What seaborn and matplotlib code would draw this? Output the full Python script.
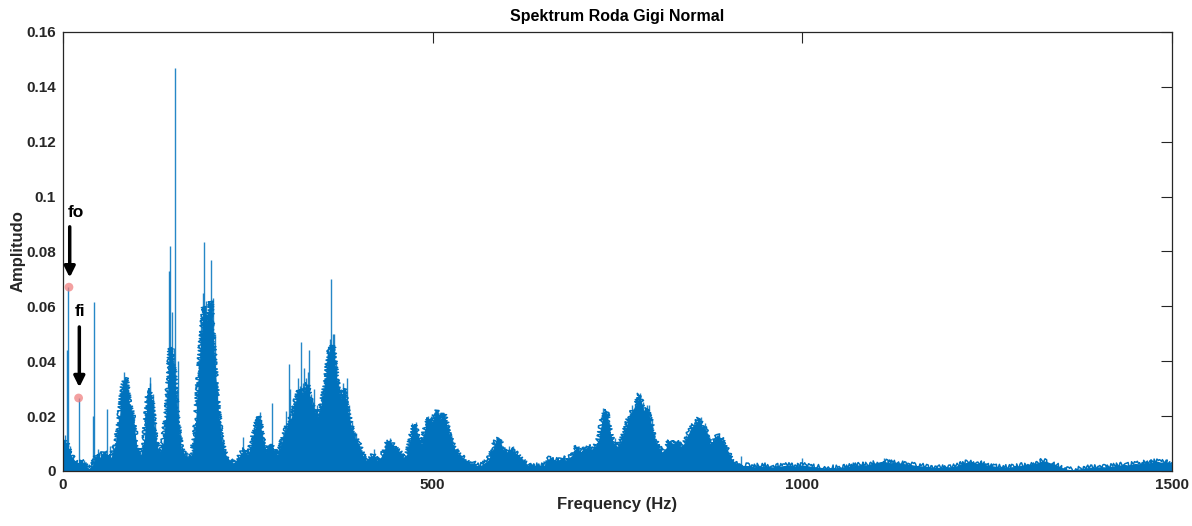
import numpy as np
import matplotlib
matplotlib.use("Agg")
import matplotlib.pyplot as plt
from matplotlib.ticker import FuncFormatter
import seaborn as sns

# ---------------- data ----------------
STEP_HZ = 5
# upper envelope of the dense spectrum, one value every 5 Hz (rows = 50 Hz)
envelope = [
    0.012, 0.010, 0.006, 0.004, 0.003, 0.004, 0.002, 0.001, 0.002, 0.006,   # 0-45
    0.005, 0.007, 0.006, 0.005, 0.009, 0.016, 0.030, 0.034, 0.024, 0.020,   # 50-95
    0.008, 0.006, 0.012, 0.030, 0.026, 0.012, 0.006, 0.010, 0.022, 0.045,   # 100-145
    0.038, 0.018, 0.008, 0.006, 0.005, 0.006, 0.020, 0.042, 0.060, 0.055,   # 150-195
    0.062, 0.040, 0.022, 0.010, 0.006, 0.004, 0.003, 0.004, 0.006, 0.008,   # 200-245
    0.006, 0.010, 0.016, 0.020, 0.012, 0.007, 0.010, 0.008, 0.006, 0.010,   # 250-295
    0.014, 0.018, 0.020, 0.026, 0.030, 0.028, 0.032, 0.026, 0.022, 0.020,   # 300-345
    0.025, 0.032, 0.044, 0.046, 0.034, 0.026, 0.030, 0.022, 0.016, 0.012,   # 350-395
    0.010, 0.006, 0.004, 0.005, 0.006, 0.004, 0.005, 0.008, 0.011, 0.010,   # 400-445
    0.008, 0.007, 0.005, 0.006, 0.012, 0.017, 0.013, 0.010, 0.016, 0.019,   # 450-495
    0.018, 0.022, 0.019, 0.021, 0.016, 0.011, 0.008, 0.006, 0.005, 0.004,   # 500-545
    0.003, 0.003, 0.002, 0.002, 0.003, 0.004, 0.007, 0.011, 0.012, 0.008,   # 550-595
    0.007, 0.008, 0.007, 0.006, 0.004, 0.003, 0.002, 0.002, 0.002, 0.002,   # 600-645
    0.002, 0.004, 0.005, 0.004, 0.004, 0.005, 0.004, 0.005, 0.006, 0.009,   # 650-695
    0.007, 0.008, 0.009, 0.008, 0.009, 0.012, 0.020, 0.022, 0.014, 0.010,   # 700-745
    0.009, 0.011, 0.015, 0.019, 0.022, 0.024, 0.028, 0.022, 0.023, 0.018,   # 750-795
    0.012, 0.009, 0.007, 0.008, 0.011, 0.010, 0.011, 0.009, 0.010, 0.013,   # 800-845
    0.016, 0.017, 0.019, 0.016, 0.015, 0.010, 0.011, 0.013, 0.012, 0.009,   # 850-895
    0.007, 0.004, 0.003, 0.003, 0.002, 0.002, 0.002, 0.0015, 0.002, 0.0018,  # 900-945
    0.002, 0.0017, 0.0015, 0.002, 0.0018, 0.002, 0.0022, 0.002, 0.0018, 0.002,  # 950-995
    0.0022, 0.002, 0.0018, 0.0016, 0.0015, 0.0013, 0.0012, 0.0012, 0.0013, 0.0012,  # 1000-1045
    0.0014, 0.0015, 0.0016, 0.0018, 0.002, 0.0022, 0.0025, 0.0022, 0.0025, 0.0028,  # 1050-1095
    0.003, 0.0034, 0.0036, 0.0032, 0.003, 0.0033, 0.003, 0.0028, 0.0026, 0.0025,  # 1100-1145
    0.0022, 0.002, 0.0019, 0.0018, 0.0016, 0.0015, 0.0014, 0.0013, 0.0014, 0.0016,  # 1150-1195
    0.0015, 0.0017, 0.002, 0.0026, 0.003, 0.0034, 0.0032, 0.0028, 0.003, 0.0026,  # 1200-1245
    0.0022, 0.002, 0.0018, 0.0016, 0.0015, 0.0014, 0.0015, 0.0016, 0.0018, 0.002,  # 1250-1295
    0.0022, 0.0025, 0.0026, 0.0028, 0.0032, 0.0038, 0.0035, 0.003, 0.0026, 0.002,  # 1300-1345
    0.0014, 0.0008, 0.0006, 0.0005, 0.0006, 0.0008, 0.001, 0.0012, 0.0013, 0.0014,  # 1350-1395
    0.0015, 0.0016, 0.0015, 0.0017, 0.0018, 0.002, 0.0022, 0.0025, 0.0022, 0.0024,  # 1400-1445
    0.0028, 0.0026, 0.0028, 0.0032, 0.003, 0.0034, 0.0036, 0.0032, 0.0035, 0.003,  # 1450-1495
    0.0025,                                                                   # 1500
]

# narrow spectral lines standing above the envelope (freq Hz, amplitude)
spike_freq = [2, 6, 7, 10, 14, 21, 28, 41, 42, 47, 52, 59, 64, 68,
              76, 79, 82, 84, 86, 88, 90, 92, 95,
              112, 115, 117, 118, 121, 124,
              138, 141, 143, 145, 147, 148, 150, 152, 154, 156, 158,
              181, 184, 186, 187, 189, 191, 193, 194, 196, 198, 200, 201, 203, 205, 208, 212,
              244, 255, 258, 262, 264, 266, 269, 278, 283,
              292, 295, 298, 300, 302, 305, 307, 310, 313, 316, 318, 320, 322, 324, 326,
              329, 331, 333, 336, 340, 343,
              348, 352, 355, 357, 359, 361, 363, 365, 367, 369, 372, 376, 378, 380, 384,
              387, 391, 396, 420,
              437, 442, 466, 472, 474, 478, 488, 492, 494, 498, 502, 504, 506, 509, 511,
              514, 517, 521, 526,
              586, 589, 592, 603, 608,
              695, 703, 712, 718, 722, 727, 731, 734, 738, 747, 752, 758, 764, 767, 770,
              773, 776, 779, 781, 784, 787, 790, 793, 797,
              817, 822, 828, 832, 843, 848, 851, 854, 857, 860, 863, 866, 868, 871,
              881, 884, 886, 889, 893, 898, 917, 1000, 1110]
spike_amp = [0.013, 0.044, 0.067, 0.009, 0.006, 0.0265, 0.004, 0.020, 0.0617, 0.008, 0.007, 0.0226, 0.009, 0.010,
             0.020, 0.030, 0.036, 0.033, 0.030, 0.022, 0.024, 0.021, 0.020,
             0.016, 0.030, 0.032, 0.0344, 0.028, 0.018,
             0.015, 0.030, 0.073, 0.082, 0.058, 0.041, 0.045, 0.147, 0.030, 0.040, 0.015,
             0.025, 0.040, 0.050, 0.055, 0.065, 0.0835, 0.062, 0.054, 0.058, 0.054, 0.077, 0.060, 0.063, 0.050, 0.032, 0.018,
             0.0125, 0.012, 0.015, 0.019, 0.018, 0.0216, 0.014, 0.010, 0.0247,
             0.009, 0.012, 0.013, 0.016, 0.022, 0.039, 0.030, 0.024, 0.026, 0.029, 0.034, 0.031, 0.047, 0.032, 0.0375,
             0.034, 0.036, 0.044, 0.028, 0.030, 0.024,
             0.024, 0.030, 0.034, 0.040, 0.045, 0.048, 0.070, 0.050, 0.050, 0.040, 0.033, 0.030, 0.032, 0.028, 0.034,
             0.024, 0.018, 0.014, 0.008,
             0.011, 0.012, 0.009, 0.0175, 0.016, 0.018, 0.014, 0.018, 0.020, 0.020, 0.020, 0.021, 0.0222, 0.020, 0.018,
             0.021, 0.019, 0.017, 0.012,
             0.011, 0.0125, 0.010, 0.009, 0.009,
             0.0084, 0.009, 0.010, 0.009, 0.0098, 0.016, 0.0228, 0.021, 0.018, 0.012, 0.011, 0.014, 0.019, 0.021, 0.024,
             0.024, 0.026, 0.026, 0.0283, 0.025, 0.022, 0.024, 0.024, 0.019,
             0.010, 0.011, 0.011, 0.011, 0.013, 0.015, 0.016, 0.017, 0.018, 0.017, 0.0198, 0.016, 0.0175, 0.014,
             0.012, 0.013, 0.013, 0.012, 0.012, 0.008, 0.0055, 0.0046, 0.0047]

# marked characteristic frequencies
mark_labels = ["fo", "fi"]
mark_freq = [8, 21]
mark_amp = [0.067, 0.0266]

x_ticks = [0, 500, 1000, 1500]
y_ticks = [0, 0.02, 0.04, 0.06, 0.08, 0.1, 0.12, 0.14, 0.16]

# ---------------- styling ----------------
sns.set_theme(style="white")
plt.rcParams["font.family"] = ["Liberation Sans", "DejaVu Sans"]
BLUE = "#0072BD"
TXT = "#262626"

fig = plt.figure(figsize=(11.92, 5.26), dpi=100)
ax = fig.add_axes([0.0529, 0.1046, 0.9303, 0.8346])

freq = np.arange(len(envelope)) * STEP_HZ
ax.fill_between(freq, 0, envelope, color=BLUE, linewidth=0)
sns.lineplot(x=freq, y=envelope, ax=ax, color=BLUE, linewidth=1.1)
# rough, hairy rendering of the envelope edge (drawing style only)
ax.lines[-1].set_sketch_params(scale=2.5, length=2.0, randomness=3.0)
ax.vlines(spike_freq, 0, spike_amp, color=BLUE, linewidth=1.0, alpha=0.85)

sns.scatterplot(x=mark_freq, y=mark_amp, ax=ax, color="#f08080", alpha=0.75,
                s=40, edgecolor="none", zorder=5)

# arrows and labels
ax.annotate("", xy=(mark_freq[0] + 1, 0.0695), xytext=(mark_freq[0] + 1, 0.090),
            arrowprops=dict(arrowstyle="-|>", color="black", lw=2.5, mutation_scale=16))
ax.text(mark_freq[0] - 1, 0.0915, mark_labels[0], fontsize=12.5, fontweight="bold",
        color="black", ha="left", va="bottom")
ax.annotate("", xy=(mark_freq[1] + 1, 0.0295), xytext=(mark_freq[1] + 1, 0.0535),
            arrowprops=dict(arrowstyle="-|>", color="black", lw=2.5, mutation_scale=16))
ax.text(mark_freq[1] - 5, 0.0555, mark_labels[1], fontsize=12.5, fontweight="bold",
        color="black", ha="left", va="bottom")

ax.set_xlim(0, 1500)
ax.set_ylim(0, 0.16)
ax.set_xticks(x_ticks)
ax.set_yticks(y_ticks)
ax.yaxis.set_major_formatter(FuncFormatter(lambda v, p: f"{v:g}"))
ax.tick_params(direction="in", length=8, width=0.8, top=True, right=True,
               colors=TXT, labelsize=11, pad=5)
for lab in ax.get_xticklabels() + ax.get_yticklabels():
    lab.set_fontweight("bold")
for s in ax.spines.values():
    s.set_visible(True)
    s.set_color(TXT)
    s.set_linewidth(0.9)

ax.set_xlabel("Frequency (Hz)", fontsize=12, fontweight="bold", color=TXT, labelpad=4)
ax.set_ylabel("Amplitudo", fontsize=12, fontweight="bold", color=TXT, labelpad=0.5)
ax.set_title("Spektrum Roda Gigi Normal", fontsize=11.5, fontweight="bold", color="black", pad=8)

fig.savefig("out.png", dpi=100)
